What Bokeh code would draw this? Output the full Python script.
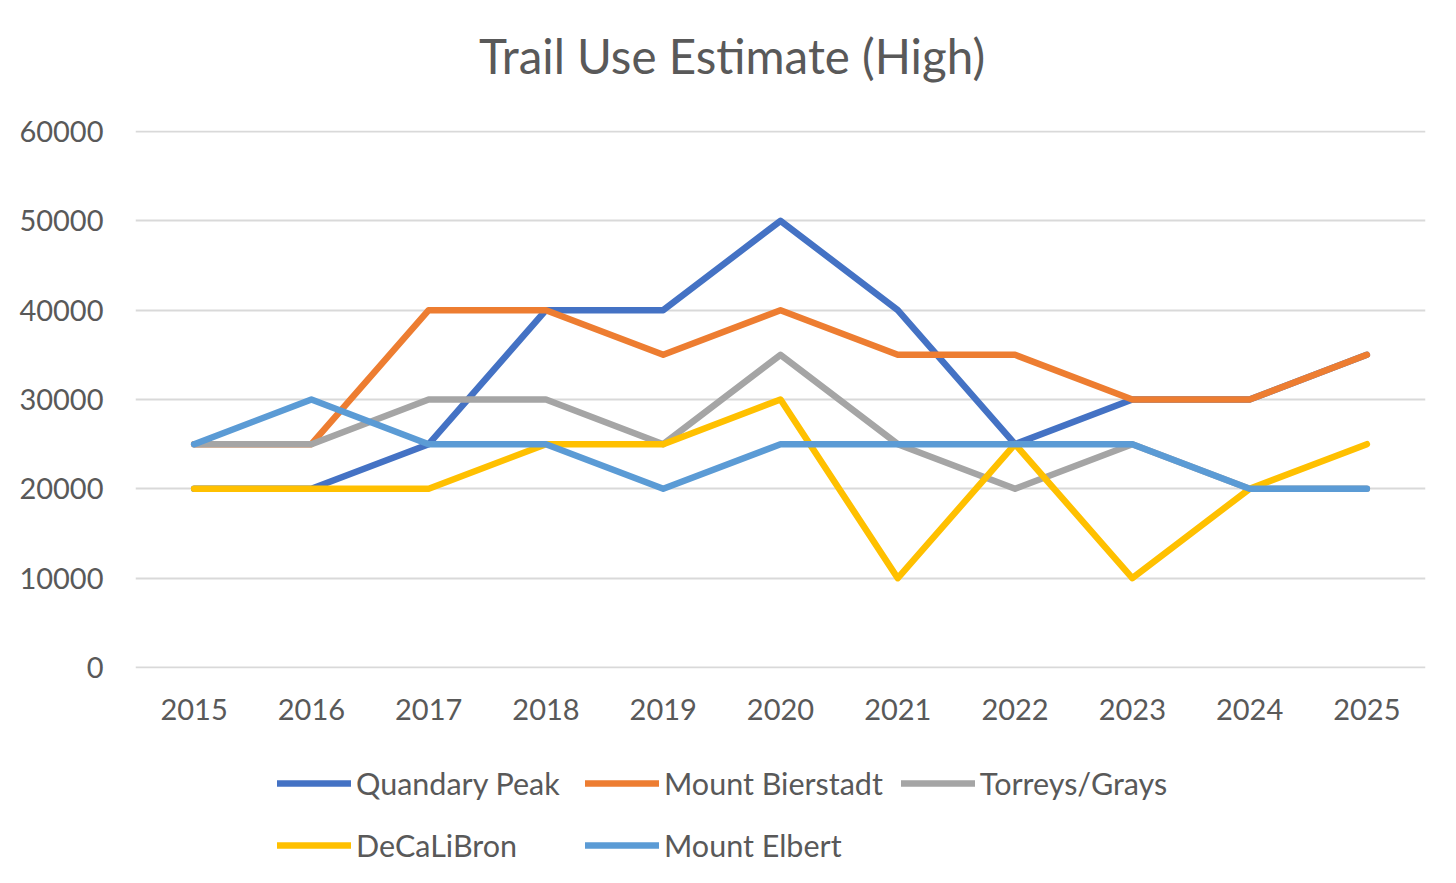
from bokeh.plotting import figure
from bokeh.layouts import column
from bokeh.models import (FactorRange, Range1d, Legend, LegendItem, FixedTicker,
                          NumeralTickFormatter, Label)
from bokeh.embed import file_html
from bokeh.resources import INLINE

years = ["2015", "2016", "2017", "2018", "2019", "2020", "2021", "2022", "2023", "2024", "2025"]
quandary = [20000, 20000, 25000, 40000, 40000, 50000, 40000, 25000, 30000, 30000, 35000]
bierstadt = [25000, 25000, 40000, 40000, 35000, 40000, 35000, 35000, 30000, 30000, 35000]
torreys = [25000, 25000, 30000, 30000, 25000, 35000, 25000, 20000, 25000, 20000, 20000]
decalibron = [20000, 20000, 20000, 25000, 25000, 30000, 10000, 25000, 10000, 20000, 25000]
elbert = [25000, 30000, 25000, 25000, 20000, 25000, 25000, 25000, 25000, 20000, 20000]
y_ticks = [0, 10000, 20000, 30000, 40000, 50000, 60000]
title_text = "Trail Use Estimate (High)"

series = [
    ("Quandary Peak", quandary, "#4472C4"),
    ("Mount Bierstadt", bierstadt, "#ED7D31"),
    ("Torreys/Grays", torreys, "#A5A5A5"),
    ("DeCaLiBron", decalibron, "#FFC000"),
    ("Mount Elbert", elbert, "#5B9BD5"),
]

FONT = "Lato"
TXT = "#595959"


def strip(h, x_range, y_range):
    f = figure(width=1440, height=h, output_backend="svg", toolbar_location=None,
               x_range=x_range, y_range=y_range,
               x_axis_location=None, y_axis_location=None,
               min_border_left=0, min_border_right=0,
               min_border_top=0, min_border_bottom=0)
    f.outline_line_color = None
    f.xgrid.grid_line_color = None
    f.ygrid.grid_line_color = None
    f.border_fill_color = "white"
    return f


# ---- title strip ----
ts = strip(106, Range1d(0, 1), Range1d(0, 1))
ts.add_layout(Label(x=596.5, y=51, x_units="screen", y_units="screen",
                    text=title_text, text_font=FONT, text_font_size="47.5px",
                    text_color=TXT, text_align="center", text_baseline="middle"))

# ---- main chart ----
p = figure(width=1440, height=632, output_backend="svg", toolbar_location=None,
           x_range=FactorRange(factors=years, range_padding=0),
           y_range=Range1d(-112, 60112),
           min_border_left=135, min_border_right=15,
           min_border_top=24, min_border_bottom=70)
p.outline_line_color = None
p.background_fill_color = "white"
p.border_fill_color = "white"

for name, vals, col in series:
    p.line(years, vals, line_width=6.5, line_color=col,
           line_cap="round", line_join="round")

p.yaxis.ticker = FixedTicker(ticks=y_ticks)
p.yaxis.formatter = NumeralTickFormatter(format="0")
for ax in (p.xaxis[0], p.yaxis[0]):
    ax.axis_line_color = None
    ax.major_tick_line_color = None
    ax.minor_tick_line_color = None
    ax.major_tick_out = 0
    ax.major_tick_in = 0
    ax.major_label_text_font = FONT
    ax.major_label_text_font_size = "29px"
    ax.major_label_text_color = TXT
p.yaxis.major_label_standoff = 32
p.xaxis.major_label_standoff = 30

p.xgrid.grid_line_color = None
p.ygrid.grid_line_color = "#D9D9D9"
p.ygrid.grid_line_width = 2

# ---- legend strip below the chart ----
lg = strip(129, FactorRange(factors=years, range_padding=0), Range1d(-3, -2))

items = []
for name, vals, col in series:
    r = lg.line(years, vals, line_width=6.5, line_color=col,
                line_cap="round", line_join="round")
    items.append(LegendItem(label=name, renderers=[r]))

legend = Legend(items=items, location=(142, 0), orientation="horizontal", ncols=3,
                glyph_width=74, glyph_height=44, label_height=44, label_width=211,
                label_standoff=5, padding=0, margin=0, spacing=18,
                label_text_font=FONT, label_text_font_size="30.5px",
                label_text_color=TXT, border_line_color=None,
                background_fill_alpha=0)
lg.add_layout(legend, "center")

layout = column(ts, p, lg, spacing=0)
open("out.html", "w").write(file_html(layout, INLINE))
